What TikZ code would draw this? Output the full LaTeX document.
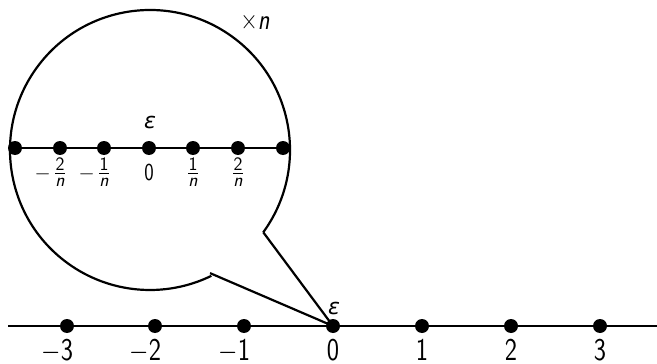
\documentclass[tikz,border=0pt]{standalone}
\usepackage{amsmath}
\usepackage{graphicx}
\usepackage{fontspec}
\newfontfamily\dejavu{DejaVu Sans}
\usetikzlibrary{calc}
\newcommand{\tall}[1]{\scalebox{1}[1.22]{#1}}
\newcommand{\sffr}[2]{$\genfrac{}{}{0.9pt}{1}{\text{\sffamily\fontsize{19}{21}\selectfont #1}}{\text{\sffamily\itshape\fontsize{19}{21}\selectfont #2}}$}
\begin{document}
\begin{tikzpicture}[x=1pt,y=-1pt,
  dotnode/.style={circle,fill=black,inner sep=0pt,minimum size=14pt},
  biglbl/.style={font=\sffamily\fontsize{26}{30}\selectfont,inner sep=0pt,anchor=base},
  smlbl/.style={font=\sffamily\fontsize{20}{24}\selectfont,inner sep=0pt},
  epsl/.style={font=\dejavu\itshape\fontsize{22}{26}\selectfont,inner sep=0pt},
  ln/.style={line width=2.2pt}]
\useasboundingbox (0,0) rectangle (657,364);
% bottom axis
\coordinate (L) at (8,326);
\coordinate (R) at (657,326);
\draw[ln] (L) -- (R);
\foreach \i/\x/\t in {m3/67/{\llap{$-$}3},m2/155/{\llap{$-$}2},m1/244/{\llap{$-$}1},z/333/0,p1/422/1,p2/511/2,p3/600/3}{
  \node[dotnode] (b\i) at (\x,326) {};
  \node[biglbl] (lb\i) at (\x,360.5) {\tall{\t}};
}
\node[epsl] (epsb) at (334,308) {ε};
% magnified circle with gap
\coordinate (C) at (150,150);
\coordinate (g1) at ($(C)+(36:140)$);
\coordinate (g2) at ($(C)+(64:137)$);
\draw[ln] (g1) arc[start angle=36,end angle=-296,radius=140];
\draw[ln] (g1) -- (bz.center) -- (g2);
% inner axis
\coordinate (iL) at (15,148);
\coordinate (iR) at (283,148);
\draw[ln] (iL) -- (iR);
\foreach \i/\x in {a/15,b/60,c/104,d/149,e/193,f/238,g/283}{
  \node[dotnode] (i\i) at (\x,148) {};
}
\node[smlbl,anchor=north] (li1) at (60,158) {\llap{$-$\,}\sffr{2}{n}};
\node[smlbl,anchor=north] (li2) at (104,158) {\llap{$-$\,}\sffr{1}{n}};
\node[smlbl,anchor=base] (li3) at (149,180) {\tall{0}};
\node[smlbl,anchor=north] (li4) at (193,158) {\sffr{1}{n}};
\node[smlbl,anchor=north] (li5) at (238,158) {\sffr{2}{n}};
\node[epsl] (epsi) at (150,122) {ε};
\node[smlbl,font=\sffamily\fontsize{24}{28}\selectfont] (times) at (255,22) {\tall{×\textit{n}}};
\end{tikzpicture}
\end{document}
